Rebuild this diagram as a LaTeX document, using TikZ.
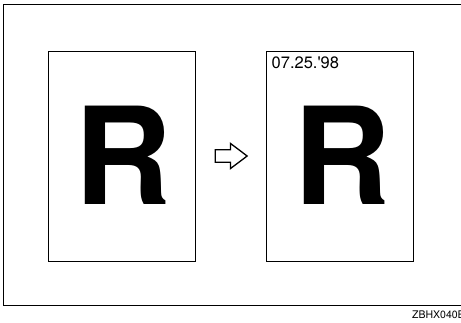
\documentclass[tikz,border=0pt]{standalone}
\usepackage{fontspec}
\setmainfont{TeX Gyre Heros}
\usetikzlibrary{shapes.arrows}
\tikzset{
  sheet/.style={draw,line width=0.9pt,minimum width=147pt,minimum height=210pt,inner sep=0pt},
  bigletter/.style={font=\fontsize{135}{135}\selectfont\bfseries,inner sep=0pt,anchor=base},
  stamp/.style={font=\fontsize{16.5}{16.5}\selectfont,inner sep=0pt,anchor=base west},
  flowarrow/.style={single arrow,draw,line width=1.3pt,minimum height=32pt,minimum width=25pt,
    inner sep=5.5pt,single arrow head extend=6pt,single arrow tip angle=74,shape border rotate=0,anchor=tail},
  code/.style={font=\fontsize{10.5}{10.5}\selectfont,inner sep=0pt,anchor=base west}
}
\begin{document}
\begin{tikzpicture}[x=1pt,y=-1pt]
\useasboundingbox (0,0) rectangle (461,322);
\draw[line width=1pt] (3.5,4) rectangle (475,305);

\node[sheet] (sheetL) at (121.5,156) {};
\node[sheet] (sheetR) at (340,156) {};

\node[bigletter] (letterL) at (123.5,204) {R};
\node[bigletter] (letterR) at (342.5,204) {R};

\node[stamp] (date) at (271.5,68) {07.25.\textquotesingle98};

\node[flowarrow] (arrow) at (214.5,156) {};

\node[code] (figcode) at (412,318.5) {ZBHX040E};
\end{tikzpicture}
\end{document}
